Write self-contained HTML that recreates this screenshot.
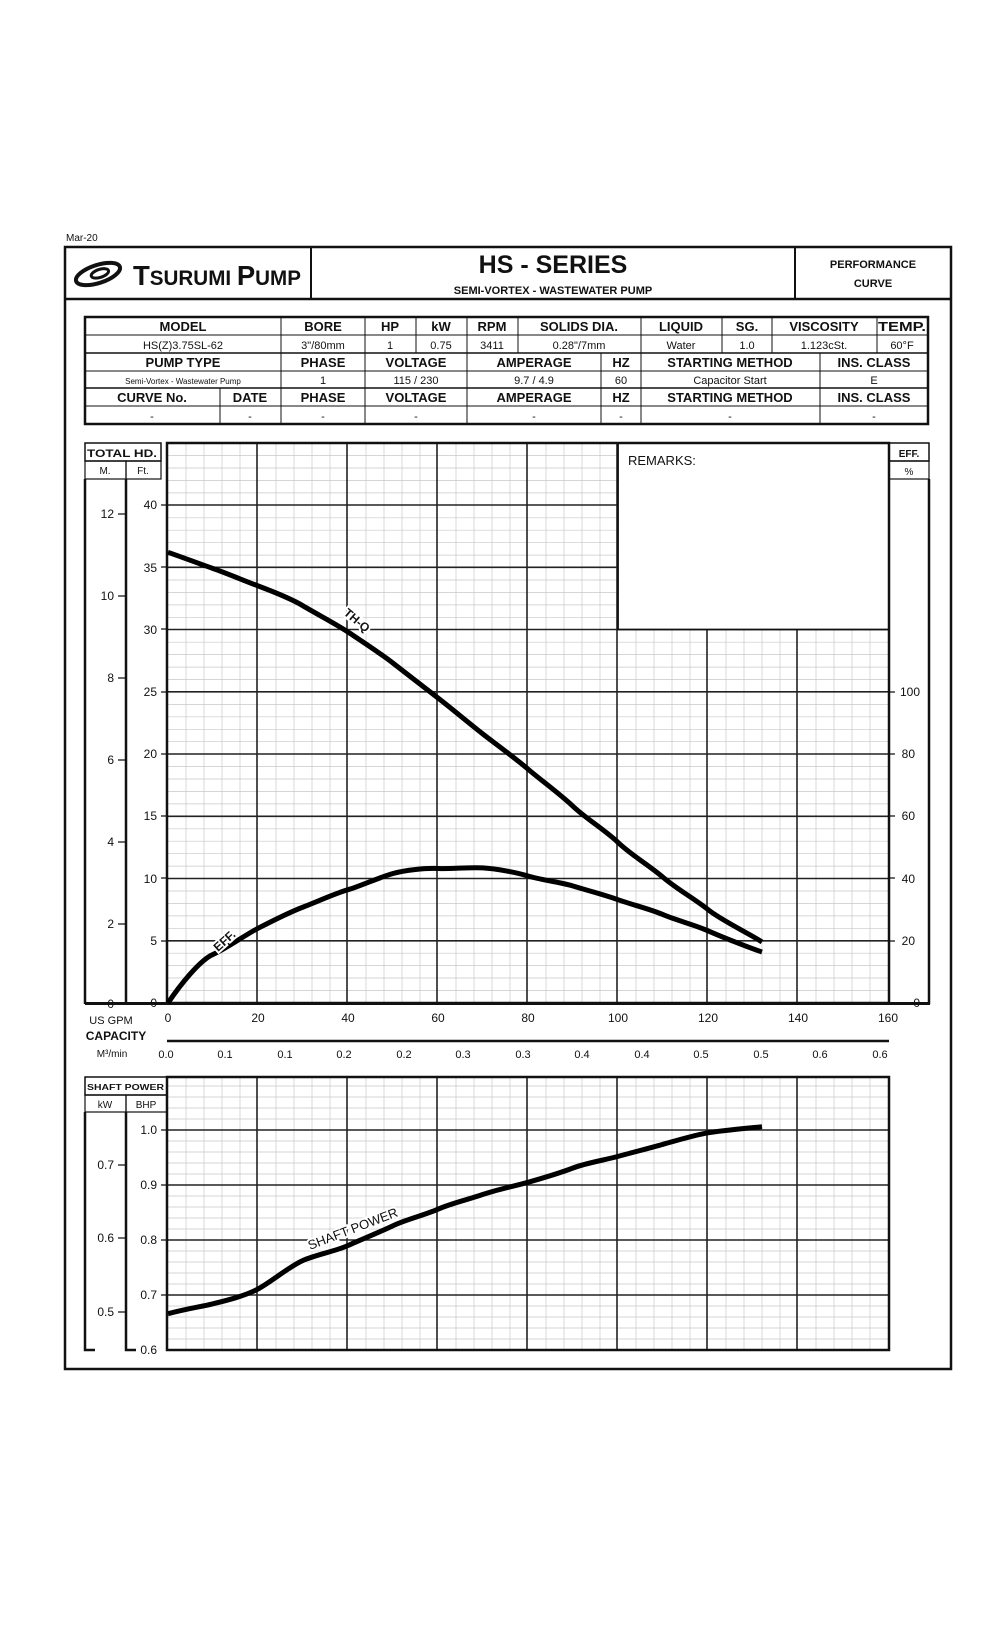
<!DOCTYPE html>
<html><head><meta charset="utf-8"><style>
html,body{margin:0;padding:0;background:#fff;}
svg{display:block;}
text{font-family:"Liberation Sans",sans-serif;fill:#111;}
</style></head><body>
<svg width="1000" height="1647" viewBox="0 0 1000 1647" xmlns="http://www.w3.org/2000/svg">
<rect width="1000" height="1647" fill="#fff"/>
<text x="66" y="241" font-size="10">Mar-20</text>
<!-- outer frame -->
<rect x="65" y="247" width="886" height="1122" fill="none" stroke="#111" stroke-width="2.5"/>
<line x1="65" y1="299" x2="951" y2="299" stroke="#111" stroke-width="2.5"/>
<line x1="311" y1="247" x2="311" y2="299" stroke="#111" stroke-width="2"/>
<line x1="795" y1="247" x2="795" y2="299" stroke="#111" stroke-width="2"/>
<!-- logo -->
<g transform="translate(98,274) rotate(-18)">
<ellipse cx="0" cy="0" rx="23" ry="9" fill="none" stroke="#111" stroke-width="4"/>
<ellipse cx="2" cy="0" rx="9" ry="4" fill="none" stroke="#111" stroke-width="3"/>
</g>
<text x="133" y="285" font-size="28" font-weight="bold" textLength="168" lengthAdjust="spacingAndGlyphs">T<tspan font-size="21">SURUMI </tspan>P<tspan font-size="21">UMP</tspan></text>
<text x="553" y="273" font-size="25" font-weight="bold" text-anchor="middle">HS - SERIES</text>
<text x="553" y="294" font-size="11" font-weight="bold" text-anchor="middle">SEMI-VORTEX - WASTEWATER PUMP</text>
<text x="873" y="268" font-size="11" font-weight="bold" text-anchor="middle">PERFORMANCE</text>
<text x="873" y="287" font-size="11" font-weight="bold" text-anchor="middle">CURVE</text>

<!-- info table -->
<g stroke="#111" fill="none">
<rect x="85" y="317" width="843" height="107" stroke-width="2.5"/>
<g stroke-width="1">
<line x1="85" y1="335" x2="928" y2="335"/>
<line x1="85" y1="353" x2="928" y2="353" stroke-width="1.5"/>
<line x1="85" y1="371" x2="928" y2="371"/>
<line x1="85" y1="388" x2="928" y2="388" stroke-width="1.5"/>
<line x1="85" y1="406" x2="928" y2="406"/>
<!-- row 1-2 -->
<line x1="281" y1="317" x2="281" y2="424"/>
<line x1="365" y1="317" x2="365" y2="424"/>
<line x1="416" y1="317" x2="416" y2="353"/>
<line x1="467" y1="317" x2="467" y2="424"/>
<line x1="518" y1="317" x2="518" y2="353"/>
<line x1="641" y1="317" x2="641" y2="424"/>
<line x1="722" y1="317" x2="722" y2="353"/>
<line x1="772" y1="317" x2="772" y2="353"/>
<line x1="877" y1="317" x2="877" y2="353"/>
<line x1="601" y1="353" x2="601" y2="424"/>
<line x1="820" y1="353" x2="820" y2="424"/>
<line x1="220" y1="388" x2="220" y2="424"/>
</g></g>
<g font-size="13" font-weight="bold" text-anchor="middle">
<text x="183" y="331">MODEL</text><text x="323" y="331">BORE</text><text x="390" y="331">HP</text><text x="441" y="331">kW</text><text x="492" y="331">RPM</text><text x="579" y="331">SOLIDS DIA.</text><text x="681" y="331">LIQUID</text><text x="747" y="331">SG.</text><text x="824" y="331">VISCOSITY</text><text x="902" y="331" textLength="48" lengthAdjust="spacingAndGlyphs">TEMP.</text>
<text x="183" y="367">PUMP TYPE</text><text x="323" y="367">PHASE</text><text x="416" y="367">VOLTAGE</text><text x="534" y="367">AMPERAGE</text><text x="621" y="367">HZ</text><text x="730" y="367">STARTING METHOD</text><text x="874" y="367">INS. CLASS</text>
<text x="152" y="402">CURVE No.</text><text x="250" y="402">DATE</text><text x="323" y="402">PHASE</text><text x="416" y="402">VOLTAGE</text><text x="534" y="402">AMPERAGE</text><text x="621" y="402">HZ</text><text x="730" y="402">STARTING METHOD</text><text x="874" y="402">INS. CLASS</text>
</g>
<g font-size="11" text-anchor="middle" fill="#333">
<text x="183" y="349">HS(Z)3.75SL-62</text><text x="323" y="349">3"/80mm</text><text x="390" y="349">1</text><text x="441" y="349">0.75</text><text x="492" y="349">3411</text><text x="579" y="349">0.28"/7mm</text><text x="681" y="349">Water</text><text x="747" y="349">1.0</text><text x="824" y="349">1.123cSt.</text><text x="902" y="349">60°F</text>
<text x="183" y="384" font-size="8">Semi-Vortex - Wastewater Pump</text><text x="323" y="384">1</text><text x="416" y="384">115 / 230</text><text x="534" y="384">9.7 / 4.9</text><text x="621" y="384">60</text><text x="730" y="384">Capacitor Start</text><text x="874" y="384">E</text>
<text x="152" y="420">-</text><text x="250" y="420">-</text><text x="323" y="420">-</text><text x="416" y="420">-</text><text x="534" y="420">-</text><text x="621" y="420">-</text><text x="730" y="420">-</text><text x="874" y="420">-</text>
</g>

<!-- MAIN CHART grid -->
<g stroke="#c8c8c8" stroke-width="0.7">
<path id="vminor" d="M186 443V1003M204 443V1003M222 443V1003M240 443V1003M276 443V1003M294 443V1003M312 443V1003M330 443V1003M366 443V1003M384 443V1003M402 443V1003M420 443V1003M456 443V1003M474 443V1003M492 443V1003M510 443V1003M546 443V1003M564 443V1003M582 443V1003M600 443V1003M636 443V1003M654 443V1003M672 443V1003M690 443V1003M726 443V1003M744 443V1003M762 443V1003M780 443V1003M816 443V1003M834 443V1003M852 443V1003M870 443V1003"/>
<path d="M167 990.5H889M167 978H889M167 965.6H889M167 953.2H889M167 928.3H889M167 915.9H889M167 903.4H889M167 891H889M167 866.1H889M167 853.7H889M167 841.2H889M167 828.8H889M167 803.9H889M167 791.5H889M167 779H889M167 766.6H889M167 741.7H889M167 729.3H889M167 716.8H889M167 704.4H889M167 679.5H889M167 667.1H889M167 654.6H889M167 642.2H889M167 617.3H889M167 604.9H889M167 592.4H889M167 580H889M167 555.1H889M167 542.7H889M167 530.2H889M167 517.8H889M167 492.9H889M167 480.5H889M167 468H889M167 455.6H889"/>
</g>
<g stroke="#222" stroke-width="1.6">
<path d="M257 443V1003M347 443V1003M437 443V1003M527 443V1003M617 443V1003M707 443V1003M797 443V1003"/>
<path d="M167 940.8H889M167 878.5H889M167 816.3H889M167 754H889M167 691.8H889M167 629.5H889M167 567.3H889M167 505H889"/>
</g>
<rect x="618" y="443" width="271" height="186.5" fill="#fff"/>
<path d="M618 443V629.5H889" stroke="#111" stroke-width="1.8" fill="none"/>
<text x="628" y="465" font-size="13">REMARKS:</text>
<rect x="167" y="443" width="722" height="560" fill="none" stroke="#111" stroke-width="2.5"/>
<line x1="85" y1="1003.5" x2="930" y2="1003.5" stroke="#111" stroke-width="3"/>

<!-- left axis columns -->
<g stroke="#111" fill="none">
<rect x="85" y="443" width="76" height="18" stroke-width="1.5"/>
<rect x="85" y="461" width="41" height="18" stroke-width="1.2"/>
<rect x="126" y="461" width="35" height="18" stroke-width="1.2"/>
<line x1="85" y1="479" x2="85" y2="1004" stroke-width="2.5"/>
<line x1="126" y1="479" x2="126" y2="1004" stroke-width="2.5"/>
<rect x="889" y="443" width="40" height="18" stroke-width="1.5"/>
<rect x="889" y="461" width="40" height="18" stroke-width="1.2"/>
<line x1="929" y1="479" x2="929" y2="1004" stroke-width="2.5"/>
</g>
<text x="87" y="457" font-size="11" font-weight="bold" textLength="70" lengthAdjust="spacingAndGlyphs">TOTAL HD.</text>
<text x="105" y="474" font-size="10" text-anchor="middle">M.</text>
<text x="143" y="474" font-size="10" text-anchor="middle">Ft.</text>
<text x="909" y="457" font-size="10" font-weight="bold" text-anchor="middle">EFF.</text>
<text x="909" y="475" font-size="10" text-anchor="middle">%</text>
<g font-size="12" text-anchor="end">
<text x="114" y="518">12</text><text x="114" y="600">10</text><text x="114" y="682">8</text><text x="114" y="764">6</text><text x="114" y="846">4</text><text x="114" y="928">2</text><text x="114" y="1008">0</text>
<text x="157" y="509">40</text><text x="157" y="572">35</text><text x="157" y="634">30</text><text x="157" y="696">25</text><text x="157" y="758">20</text><text x="157" y="820">15</text><text x="157" y="883">10</text><text x="157" y="945">5</text><text x="157" y="1007">0</text>
<text x="920" y="696">100</text><text x="915" y="758">80</text><text x="915" y="820">60</text><text x="915" y="883">40</text><text x="915" y="945">20</text><text x="920" y="1007">0</text>
</g>
<g stroke="#111" stroke-width="1.2">
<path d="M118 514H126M118 596H126M118 678H126M118 760H126M118 842H126M118 924H126M161 505H167M161 567H167M161 629H167M161 692H167M161 754H167M161 816H167M161 878H167M161 941H167M889 692H895M889 754H895M889 816H895M889 878H895M889 941H895"/>
</g>
<!-- x axis labels -->
<g font-size="12" text-anchor="middle">
<text x="168" y="1022">0</text><text x="258" y="1022">20</text><text x="348" y="1022">40</text><text x="438" y="1022">60</text><text x="528" y="1022">80</text><text x="618" y="1022">100</text><text x="708" y="1022">120</text><text x="798" y="1022">140</text><text x="888" y="1022">160</text>
</g>
<text x="111" y="1024" font-size="11" text-anchor="middle">US GPM</text>
<text x="116" y="1040" font-size="12" font-weight="bold" text-anchor="middle">CAPACITY</text>
<text x="112" y="1057" font-size="10" text-anchor="middle">M³/min</text>
<line x1="167" y1="1041" x2="889" y2="1041" stroke="#111" stroke-width="2.5"/>
<g font-size="11" text-anchor="middle">
<text x="166" y="1058">0.0</text><text x="225" y="1058">0.1</text><text x="285" y="1058">0.1</text><text x="344" y="1058">0.2</text><text x="404" y="1058">0.2</text><text x="463" y="1058">0.3</text><text x="523" y="1058">0.3</text><text x="582" y="1058">0.4</text><text x="642" y="1058">0.4</text><text x="701" y="1058">0.5</text><text x="761" y="1058">0.5</text><text x="820" y="1058">0.6</text><text x="880" y="1058">0.6</text>
</g>

<!-- curves -->
<g fill="none" stroke="#000" stroke-width="5" stroke-linejoin="round" stroke-linecap="butt">
<path d="M168 552.3 C190 560,200 564,213 568.5 S245 581,258 585.9 S290 598,303 605.8 S336 624,348 632 S380 653,393 663.1 S425 688,438 698 S470 724,483 734.1 S515 758,528 769.1 S560 794,573 806.3 S605 830,618 842.4 S650 866,663 877.3 S695 899,708 909.6 S750 934,762 942"/>
<path d="M168 1003 C180 985,200 960,213 954.4 S245 935,258 928.3 S290 912,303 907.1 S336 893,348 889.7 S380 877,393 873.5 S425 868,438 868.5 S470 867,483 867.9 S515 872,528 876 S560 882,573 886 S605 895,618 899.7 S650 909,663 914.6 S695 925,708 930.8 S750 948,762 952"/>
</g>
<text transform="translate(343,614) rotate(40)" font-size="12" font-weight="bold" stroke="#fff" stroke-width="4" paint-order="stroke">TH-Q</text>
<text transform="translate(218,952) rotate(-42)" font-size="12" font-weight="bold" stroke="#fff" stroke-width="4" paint-order="stroke">EFF.</text>

<!-- SHAFT POWER chart -->
<g stroke="#c8c8c8" stroke-width="0.7">
<path d="M186 1077V1350M204 1077V1350M222 1077V1350M240 1077V1350M276 1077V1350M294 1077V1350M312 1077V1350M330 1077V1350M366 1077V1350M384 1077V1350M402 1077V1350M420 1077V1350M456 1077V1350M474 1077V1350M492 1077V1350M510 1077V1350M546 1077V1350M564 1077V1350M582 1077V1350M600 1077V1350M636 1077V1350M654 1077V1350M672 1077V1350M690 1077V1350M726 1077V1350M744 1077V1350M762 1077V1350M780 1077V1350M816 1077V1350M834 1077V1350M852 1077V1350M870 1077V1350"/>
<path d="M167 1339H889M167 1328H889M167 1317H889M167 1306H889M167 1284H889M167 1273H889M167 1262H889M167 1251H889M167 1229H889M167 1218H889M167 1207H889M167 1196H889M167 1174H889M167 1163H889M167 1152H889M167 1141H889M167 1119H889M167 1108H889M167 1097H889M167 1086H889"/>
</g>
<g stroke="#222" stroke-width="1.6">
<path d="M257 1077V1350M347 1077V1350M437 1077V1350M527 1077V1350M617 1077V1350M707 1077V1350M797 1077V1350"/>
<path d="M167 1130H889M167 1185H889M167 1240H889M167 1295H889"/>
</g>
<rect x="167" y="1077" width="722" height="273" fill="none" stroke="#111" stroke-width="2.5"/>
<g stroke="#111" fill="none">
<rect x="85" y="1077" width="82" height="18" stroke-width="1.5"/>
<rect x="85" y="1095" width="41" height="17" stroke-width="1.2"/>
<rect x="126" y="1095" width="41" height="17" stroke-width="1.2"/>
<path d="M85 1112V1350H95M126 1112V1350H136" stroke-width="2.5"/>
<path d="M118 1165H126M118 1238H126M118 1312H126M161 1130H167M161 1185H167M161 1240H167M161 1295H167" stroke-width="1.2"/>
</g>
<text x="87" y="1090" font-size="8" font-weight="bold" textLength="77" lengthAdjust="spacingAndGlyphs">SHAFT POWER</text>
<text x="105" y="1108" font-size="10" text-anchor="middle">kW</text>
<text x="146" y="1108" font-size="10" text-anchor="middle">BHP</text>
<g font-size="12" text-anchor="end">
<text x="114" y="1169">0.7</text><text x="114" y="1242">0.6</text><text x="114" y="1316">0.5</text>
<text x="157" y="1134">1.0</text><text x="157" y="1189">0.9</text><text x="157" y="1244">0.8</text><text x="157" y="1299">0.7</text><text x="157" y="1354">0.6</text>
</g>
<path d="M168 1313.7 C190 1308,200 1307,213 1303.8 S245 1296,258 1289 S290 1266,303 1260.4 S336 1251,348 1245.5 S380 1232,393 1225.7 S425 1215,438 1209.2 S470 1199,483 1194.4 S515 1186,528 1182.3 S560 1173,573 1168 S605 1160,618 1156.4 S650 1148,663 1144.3 S695 1135,708 1132.8 S750 1128,762 1126.7" fill="none" stroke="#000" stroke-width="5" stroke-linejoin="round"/>
<text transform="translate(310,1250) rotate(-21)" font-size="13" stroke="#fff" stroke-width="4" paint-order="stroke">SHAFT POWER</text>
</svg>
</body></html>
